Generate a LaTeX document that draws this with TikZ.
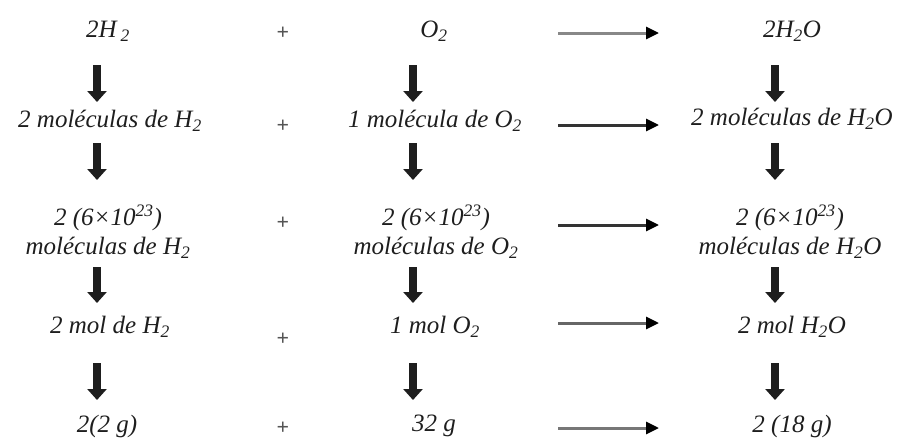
\documentclass[tikz,border=0pt]{standalone}
\usepackage{fontspec}
\setmainfont{Liberation Serif}
\usetikzlibrary{arrows.meta}
\definecolor{ink}{HTML}{1E1E1E}
\definecolor{plusgray}{HTML}{555555}
\tikzset{
  txt/.style={inner sep=0pt, text=ink, font=\fontsize{25}{29}\selectfont\itshape, align=center},
  plussign/.style={inner sep=0pt, text=plusgray, font=\fontsize{22}{22}\selectfont\bfseries},
  downarr/.style={draw=ink, line width=8pt, -{Triangle[width=19pt,length=11pt]}},
  rightarr/.style={line width=3pt, -{Triangle[width=12pt,length=13pt,color=black]}},
}
\begin{document}
\begin{tikzpicture}[x=1pt,y=-1pt]
\useasboundingbox (0,0) rectangle (901,439);
% row 1
\node[txt] (a1) at (108,31) {2H\,\textsubscript{2}};
\node[plussign] (p1) at (283,33) {+};
\node[txt] (b1) at (434,31) {O\textsubscript{2}};
\node[txt] (c1) at (792,31) {2H\textsubscript{2}O};
% row 2
\node[txt] (a2) at (110,121) {2 moléculas de H\textsubscript{2}};
\node[plussign] (p2) at (283,126) {+};
\node[txt] (b2) at (435,121) {1 molécula de O\textsubscript{2}};
\node[txt] (c2) at (792,119) {2 moléculas de H\textsubscript{2}O};
% row 3
\node[txt] (a3) at (108,232) {2 (6×10\textsuperscript{23})\\moléculas de H\textsubscript{2}};
\node[plussign] (p3) at (283,223) {+};
\node[txt] (b3) at (436,232) {2 (6×10\textsuperscript{23})\\moléculas de O\textsubscript{2}};
\node[txt] (c3) at (790,232) {2 (6×10\textsuperscript{23})\\moléculas de H\textsubscript{2}O};
% row 4
\node[txt] (a4) at (110,327) {2 mol de H\textsubscript{2}};
\node[plussign] (p4) at (283,339) {+};
\node[txt] (b4) at (435,327) {1 mol O\textsubscript{2}};
\node[txt] (c4) at (792,327) {2 mol H\textsubscript{2}O};
% row 5
\node[txt] (a5) at (107,426) {2(2 g)};
\node[plussign] (p5) at (283,428) {+};
\node[txt] (b5) at (434,426) {32 g};
\node[txt] (c5) at (792,426) {2 (18 g)};
% arrow anchors
\foreach \r/\ya/\yb in {1/65/102, 2/143/180, 3/267/303, 4/363/400}{
  \coordinate (da\r s) at (97,\ya);  \coordinate (da\r e) at (97,\yb);
  \coordinate (db\r s) at (413,\ya); \coordinate (db\r e) at (413,\yb);
  \coordinate (dc\r s) at (775,\ya); \coordinate (dc\r e) at (775,\yb);
}
\foreach \r in {1,2,3,4}{
  \draw[downarr] (da\r s) -- (da\r e);
  \draw[downarr] (db\r s) -- (db\r e);
  \draw[downarr] (dc\r s) -- (dc\r e);
}
\foreach \r/\y/\c in {1/33/888888, 2/125/333333, 3/225/333333, 4/323/666666, 5/428/777777}{
  \coordinate (h\r s) at (558,\y);
  \coordinate (h\r e) at (659,\y);
  \definecolor{shaft}{HTML}{\c}
  \draw[rightarr, draw=shaft] (h\r s) -- (h\r e);
}
\end{tikzpicture}
\end{document}
